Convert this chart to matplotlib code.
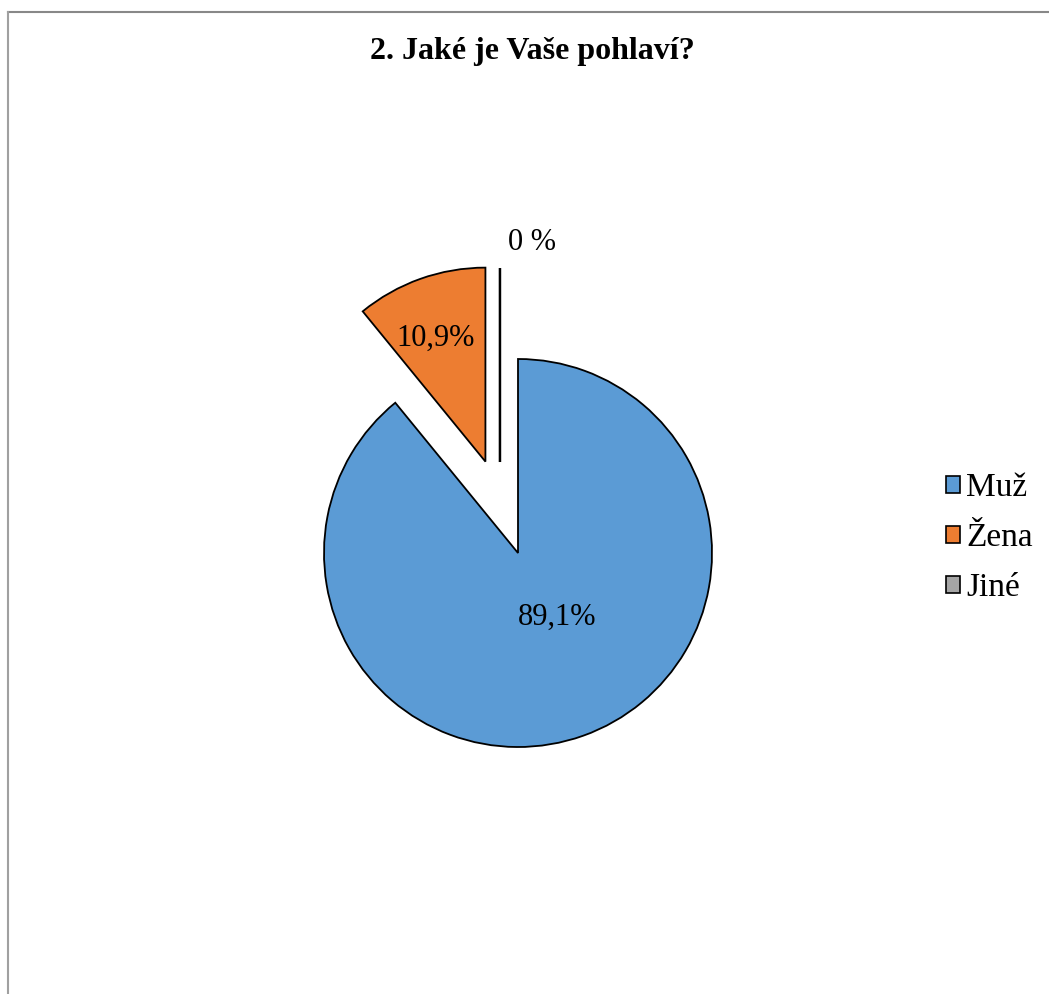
import matplotlib.pyplot as plt
from matplotlib.lines import Line2D
from matplotlib.patches import Patch

# data
categories = ["Muž", "Žena", "Jiné"]
shares = [89.1, 10.9, 0.0]
colors = ["#5B9BD5", "#ED7D31", "#A5A5A5"]
explode = [0.0, 0.5, 0.5]
title = "2. Jaké je Vaše pohlaví?"

plt.rcParams['font.family'] = ['Liberation Serif', 'DejaVu Serif']

W, H = 1049, 994
fig = plt.figure(figsize=(W / 100, H / 100), dpi=100)

# pie centre and radius in pixels
cx, cy, r = 518, 553, 194
ax = fig.add_axes([0, 0, 1, 1])


def pct_label(v):
    if v == 0:
        return "0 %"
    return f"{v:.1f}%".replace(".", ",")


wedges, texts, autotexts = ax.pie(
    shares, colors=colors, explode=explode, startangle=90, counterclock=False,
    autopct=lambda p: "", wedgeprops=dict(edgecolor="black", linewidth=1.3),
)

# Excel puts the empty slice a bit to the left of the top
wedges[2].set_center((-0.093, 0.469))
wedges[2].set_linewidth(1.8)

label_pos = [(0.201, -0.330), (-0.423, 1.108), (0.072, 1.598)]
for t, v, pos in zip(autotexts, shares, label_pos):
    t.set_text(pct_label(v))
    t.set_position(pos)
    t.set_fontsize(22)
    t.set_ha("center")
    t.set_va("center")

ax.set_xlim(-cx / r, (W - cx) / r)
ax.set_ylim((cy - H) / r, cy / r)
ax.set_aspect("auto")
ax.axis("off")

fig.text(532 / W, 1 - 52 / H, title, ha="center", va="center",
         fontsize=23, fontweight="bold")

handles = [Patch(facecolor=c, edgecolor="black", linewidth=1.2) for c in colors]
fig.legend(handles, categories, loc="center left",
           bbox_to_anchor=(946 / W, 1 - 538 / H), frameon=False,
           fontsize=24, handlelength=0.42, handleheight=0.42,
           handletextpad=0.18, labelspacing=0.58, borderpad=0, borderaxespad=0)

# chart area border (only top and left visible)
fig.add_artist(Line2D([8 / W, 1], [1 - 12 / H, 1 - 12 / H], color="#888888", lw=1.5))
fig.add_artist(Line2D([8 / W, 8 / W], [0, 1 - 12 / H], color="#a0a0a0", lw=1.5))

fig.savefig("out.png", dpi=100)
